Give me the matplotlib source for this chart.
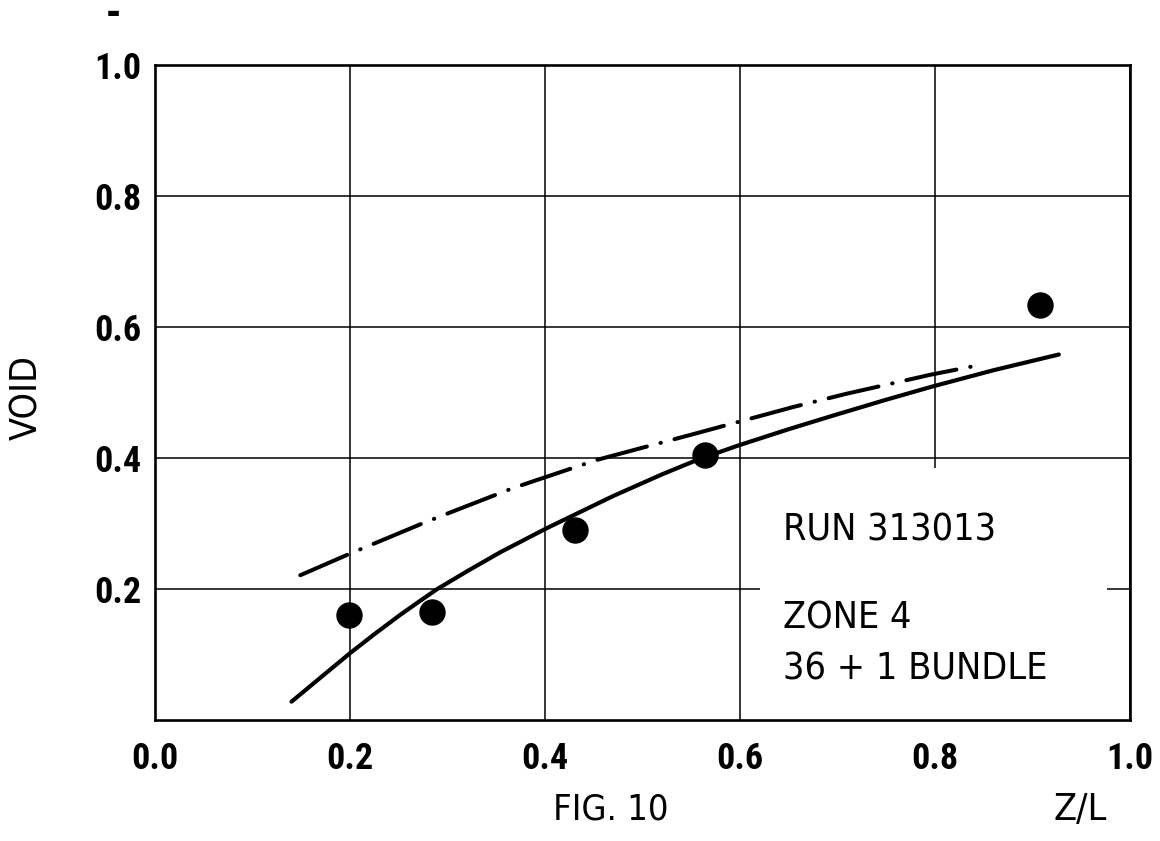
import matplotlib
matplotlib.use("Agg")
import matplotlib.pyplot as plt
from matplotlib.patches import Rectangle

# ---- data ----
pts_x = [0.199, 0.284, 0.431, 0.564, 0.908]
pts_y = [0.160, 0.165, 0.290, 0.405, 0.634]

solid_x = [0.140, 0.170, 0.200, 0.225, 0.251, 0.272, 0.289, 0.320, 0.354, 0.402,
           0.470, 0.520, 0.556, 0.598, 0.650, 0.696, 0.750, 0.797, 0.860, 0.927]
solid_y = [0.028, 0.065, 0.102, 0.131, 0.160, 0.182, 0.1995, 0.227, 0.256, 0.293,
           0.342, 0.375, 0.397, 0.419, 0.444, 0.465, 0.489, 0.509, 0.534, 0.558]

dd_x = [0.149, 0.200, 0.279, 0.367, 0.453, 0.556, 0.598, 0.655, 0.709, 0.795, 0.839]
dd_y = [0.221, 0.254, 0.303, 0.354, 0.397, 0.438, 0.455, 0.478, 0.498, 0.527, 0.540]

xticks = [0.0, 0.2, 0.4, 0.6, 0.8, 1.0]
xticklabels = ["0.0", "0.2", "0.4", "0.6", "0.8", "1.0"]
yticks = [0.2, 0.4, 0.6, 0.8, 1.0]
yticklabels = ["0.2", "0.4", "0.6", "0.8", "1.0"]

annot_lines = ["RUN 313013", "ZONE 4", "36 + 1 BUNDLE"]

FONT = ["Roboto Condensed", "Roboto", "DejaVu Sans"]
plt.rcParams["font.family"] = FONT

fig = plt.figure(figsize=(11.6, 8.41), dpi=100)
ax = fig.add_axes([155/1160, 1-720/841, 975/1160, 655/841])

ax.set_xlim(0, 1.0)
ax.set_ylim(0, 1.0)
ax.set_axisbelow(True)
ax.grid(True, color="black", linewidth=1.1)

# blank area around annotation (gridlines interrupted there)
ax.add_patch(Rectangle((0.62, 0.0), 0.356, 0.385, facecolor="white",
                       edgecolor="none", zorder=1))

ax.plot(solid_x, solid_y, color="black", linewidth=3.0, solid_capstyle="round",
        solid_joinstyle="round", zorder=2)
ax.plot(dd_x, dd_y, color="black", linewidth=2.9, linestyle=(0, (12.7, 3.5, 0.1, 3.5)),
        dash_capstyle="round", zorder=2)
ax.plot(pts_x, pts_y, linestyle="none", marker="o", markersize=18,
        color="black", zorder=3)

ax.set_xticks(xticks)
ax.set_xticklabels(xticklabels)
ax.set_yticks(yticks)
ax.set_yticklabels(yticklabels)
ax.tick_params(length=0, labelsize=26, pad=10)
ax.tick_params(axis="x", pad=15)
for lab in ax.get_xticklabels() + ax.get_yticklabels():
    lab.set_fontweight("bold")

for s in ax.spines.values():
    s.set_linewidth(1.9)
    s.set_zorder(4)

ty = [0.290, 0.155, 0.077]
for t, yy in zip(annot_lines, ty):
    ax.text(0.644, yy, t, fontsize=27, va="center", ha="left", zorder=5,
            family="DejaVu Sans", fontstretch="condensed")

fig.text(27/1160, 1-398/841, "VOID", rotation=90, fontsize=27,
         ha="center", va="center", family="DejaVu Sans", fontstretch="condensed")
fig.text(611/1160, 1-810/841, "FIG. 10", fontsize=26, ha="center", va="center",
         family="DejaVu Sans", fontstretch="condensed")
fig.text(1080/1160, 1-810/841, "Z/L", fontsize=27, ha="center", va="center",
         family="DejaVu Sans", fontstretch="condensed")
fig.text(113/1160, 1-13/841, "\u25AC", fontsize=10, ha="center", va="center",
         family=["DejaVu Sans"])

fig.savefig("out.png", dpi=100)
